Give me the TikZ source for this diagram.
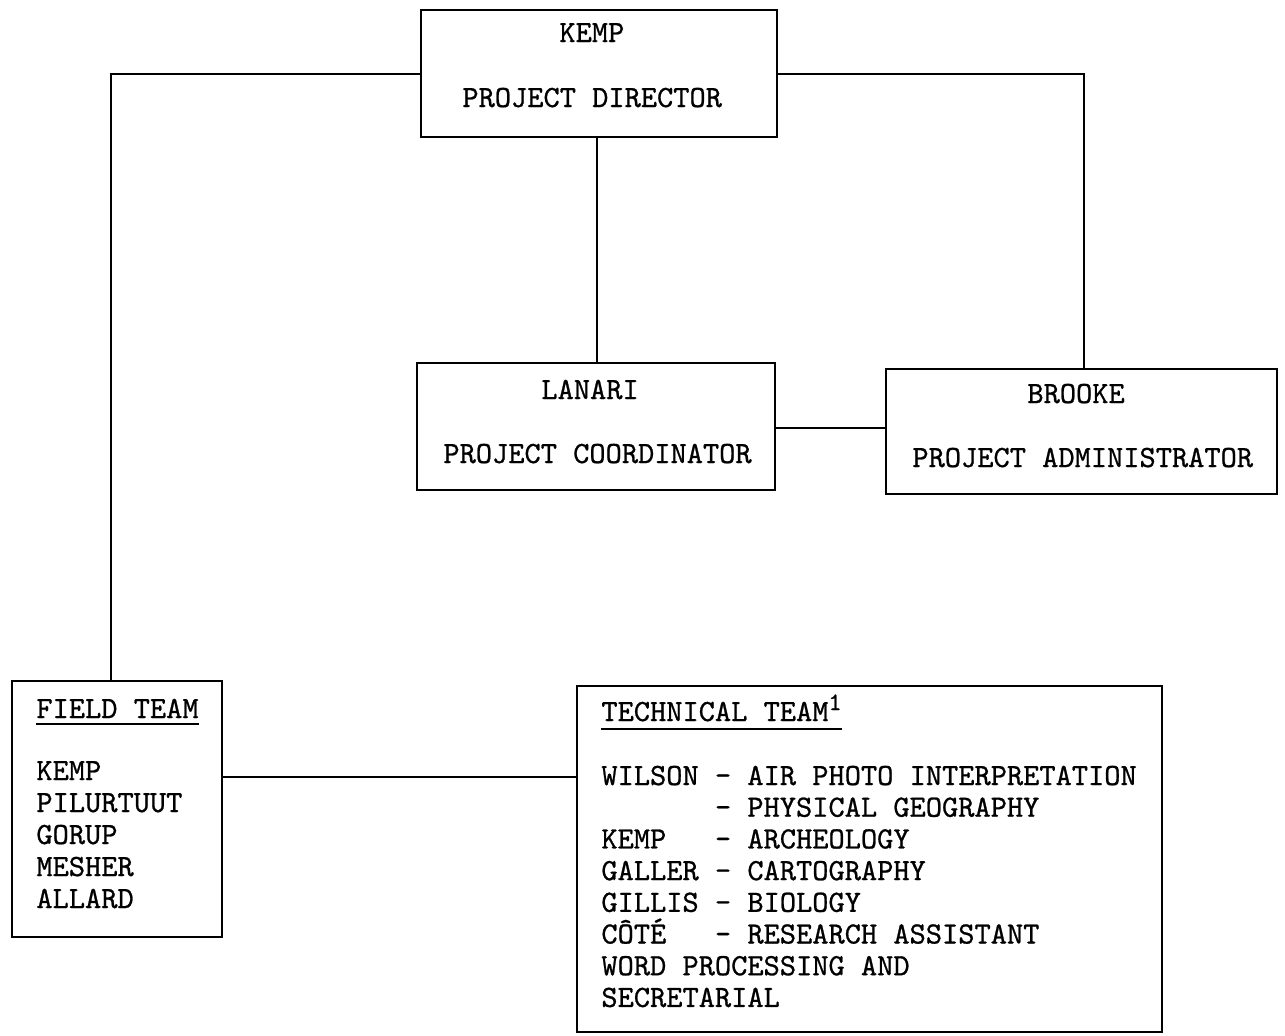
\documentclass[tikz,border=0pt]{standalone}
\usepackage{fontspec}
\newfontfamily\twfam{lmmono10-regular.otf}[FakeBold=0.8]
\newcommand{\tw}{\fontsize{15.45}{16}\selectfont\twfam}
\tikzset{
  box/.style={draw, rectangle, line width=0.9pt, inner sep=0pt},
  conn/.style={draw, line width=1pt},
  txt/.style={anchor=base west, inner sep=0pt, font=\tw},
  uline/.style={draw, line width=0.9pt}
}
\begin{document}
\begin{tikzpicture}[x=0.5pt, y=-0.5pt]
\useasboundingbox (0,0) rectangle (1285,1035);
% boxes
\node[box, minimum width=178pt, minimum height=63.5pt] (dir) at (599,73.5) {};
\node[box, minimum width=179pt, minimum height=63.5pt] (lan) at (596,426.5) {};
\node[box, minimum width=195.5pt, minimum height=62.5pt] (bro) at (1081.5,431.5) {};
\node[box, minimum width=105pt, minimum height=128pt] (fld) at (117,809) {};
\node[box, minimum width=292.5pt, minimum height=173pt] (tec) at (869.5,859) {};
% connectors
\draw[conn] (dir.west) -| ([xshift=-3pt]fld.north);
\draw[conn] (dir.east) -| ([xshift=1.25pt]bro.north);
\draw[conn] ([xshift=-1pt]dir.south) -- ([xshift=-1pt]dir.south |- lan.north);
\draw[conn] ([yshift=-0.75pt]lan.east) -- ([yshift=-0.75pt]lan.east -| bro.west);
\draw[conn] ([yshift=16pt]fld.east) -- ([yshift=16pt]fld.east -| tec.west);
% director
\node[txt] (d1) at (559,42) {KEMP};
\node[txt] (d2) at (462,107) {PROJECT DIRECTOR};
% coordinator
\node[txt] (l1) at (541,399) {LANARI};
\node[txt] (l2) at (443,463) {PROJECT COORDINATOR};
% administrator
\node[txt] (b1) at (1027,403) {BROOKE};
\node[txt] (b2) at (912,467) {PROJECT ADMINISTRATOR};
% field team
\node[txt] (f0) at (36,718) {FIELD TEAM};
\draw[uline] ([yshift=-3pt]f0.base west) -- ([yshift=-3pt]f0.base east);
\node[txt] (f1) at (36,780) {KEMP};
\node[txt] (f2) at (36,812) {PILURTUUT};
\node[txt] (f3) at (36,844) {GORUP};
\node[txt] (f4) at (36,876) {MESHER};
\node[txt] (f5) at (36,908) {ALLARD};
% technical team
\node[txt] (t0) at (601,721) {TECHNICAL TEAM\raisebox{5.5pt}{\fontsize{12.5}{12.5}\selectfont 1}};
\draw[uline] ([yshift=-4pt]t0.base west) -- ([yshift=-4pt]t0.base east);
\node[txt] (t1) at (601,785) {WILSON - AIR PHOTO INTERPRETATION};
\node[txt] (t2) at (601,816.7) {\ \ \ \ \ \ \ - PHYSICAL GEOGRAPHY};
\node[txt] (t3) at (601,848.4) {KEMP\ \ \ - ARCHEOLOGY};
\node[txt] (t4) at (601,880.1) {GALLER - CARTOGRAPHY};
\node[txt] (t5) at (601,911.8) {GILLIS - BIOLOGY};
\node[txt] (t6) at (601,943.5) {CÔTÉ\ \ \ - RESEARCH ASSISTANT};
\node[txt] (t7) at (601,975.2) {WORD PROCESSING AND};
\node[txt] (t8) at (601,1006.9) {SECRETARIAL};
\end{tikzpicture}
\end{document}
